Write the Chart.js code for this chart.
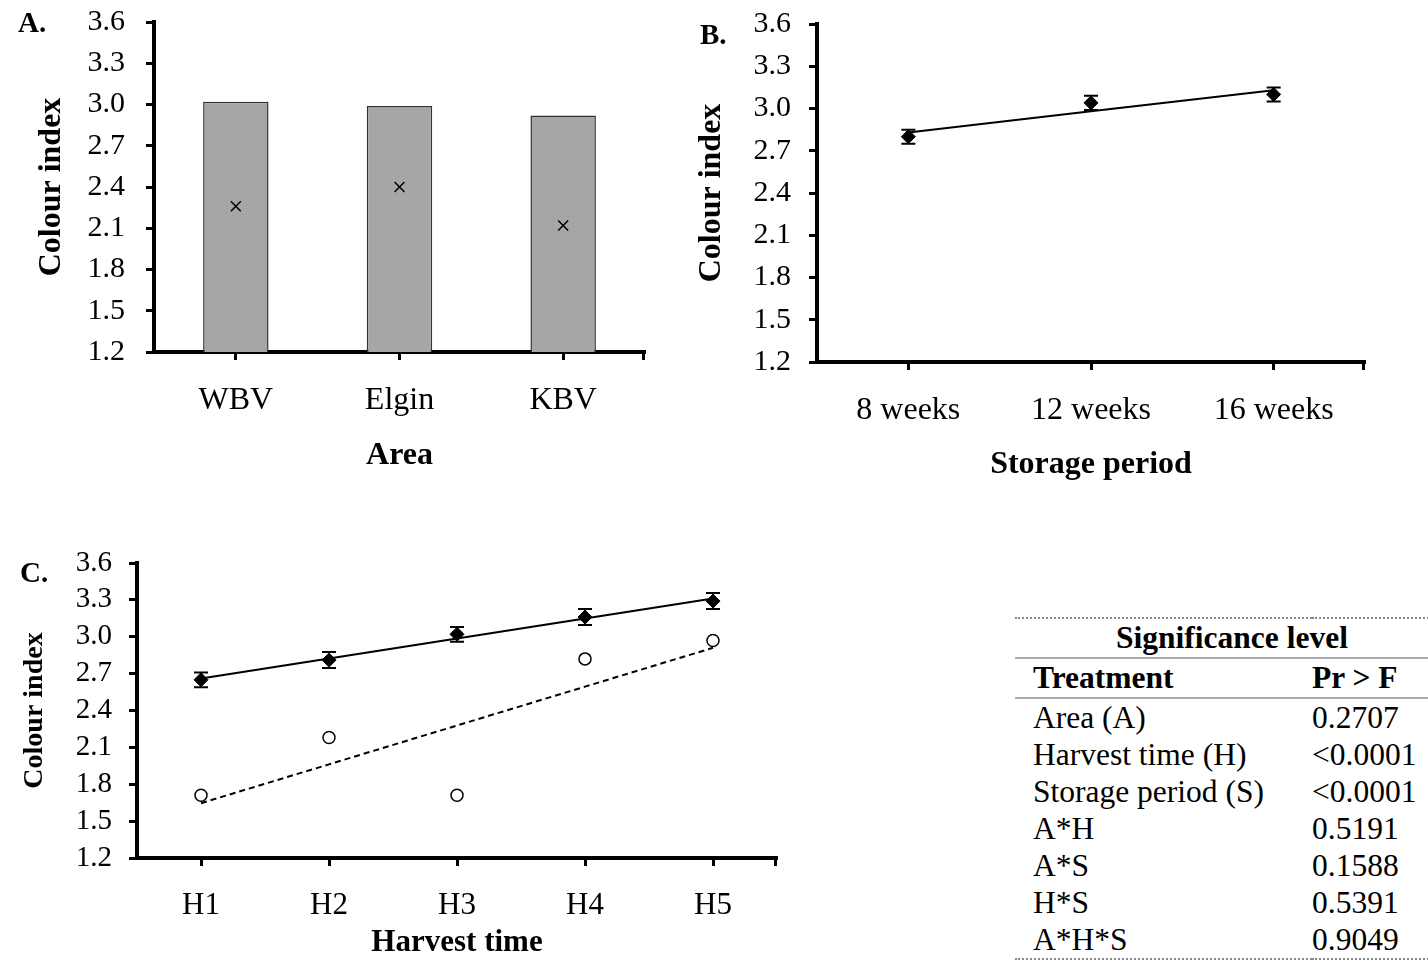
<!DOCTYPE html>
<html>
<head>
<meta charset="utf-8">
<title>Colour index</title>
<script src="https://cdn.jsdelivr.net/npm/chart.js@4.4.1/dist/chart.umd.min.js"></script>
<style>
  body { margin: 0; background: #fff; width: 1428px; height: 962px; position: relative; overflow: hidden;
         font-family: "Liberation Serif", "Times New Roman", serif; color: #000; }
  .panel { position: absolute; }
  .letter { position: absolute; font-weight: bold; font-size: 29px; line-height: 1; }
  #sig { position: absolute; left: 1015px; top: 617px; width: 434px; border-collapse: collapse; font-size: 31.5px; }
  #sig td, #sig th { padding: 0; height: 37px; line-height: 1; text-align: left; vertical-align: middle; }
  #sig tr.top th { height: 38px; text-align: center; border-top: 2px dotted #888; border-bottom: 2px solid #aaa; }
  #sig tr.head th { height: 38px; border-bottom: 2px solid #aaa; }
  #sig tr:last-child td { border-bottom: 2px dotted #888; }
  #sig .c1 { padding-left: 18px; width: 279px; }
</style>
</head>
<body>
<div class="panel" style="left:0;top:0;width:660px;height:480px"><canvas id="area"></canvas></div>
<div class="panel" style="left:690px;top:0;width:738px;height:490px"><canvas id="storage"></canvas></div>
<div class="panel" style="left:0;top:540px;width:800px;height:422px"><canvas id="harvest"></canvas></div>
<div class="letter" style="left:18px;top:8px">A.</div>
<div class="letter" style="left:700px;top:20px">B.</div>
<div class="letter" style="left:20px;top:558px">C.</div>
<table id="sig">
  <tr class="top"><th colspan="2">Significance level</th></tr>
  <tr class="head"><th class="c1">Treatment</th><th>Pr &gt; F</th></tr>
</table>
<script>
const yTicks = [1.2, 1.5, 1.8, 2.1, 2.4, 2.7, 3.0, 3.3, 3.6];

// A. Area
const areas = ['WBV', 'Elgin', 'KBV'];
const areaBars = [3.02, 2.99, 2.92];
const areaMarks = [2.26, 2.40, 2.12];

// B. Storage period
const weeks = ['8 weeks', '12 weeks', '16 weeks'];
const storageMeans = [2.80, 3.04, 3.10];
const storageErr = [0.05, 0.05, 0.05];

// C. Harvest time
const harvests = ['H1', 'H2', 'H3', 'H4', 'H5'];
const harvestMeans = [2.65, 2.81, 3.02, 3.16, 3.29];
const harvestErr = [0.06, 0.065, 0.06, 0.065, 0.065];
const harvestOpen = [1.71, 2.18, 1.71, 2.82, 2.97];

// significance table
const treatments = ['Area (A)', 'Harvest time (H)', 'Storage period (S)', 'A*H', 'A*S', 'H*S', 'A*H*S'];
const pValues = ['0.2707', '<0.0001', '<0.0001', '0.5191', '0.1588', '0.5391', '0.9049'];

const table = document.getElementById('sig');
treatments.forEach((t, i) => {
  const tr = table.insertRow();
  const a = tr.insertCell(); a.className = 'c1'; a.textContent = t;
  const b = tr.insertCell(); b.textContent = pValues[i];
});

Chart.defaults.font.family = '"Liberation Serif", "Times New Roman", serif';
Chart.defaults.color = '#000';
Chart.defaults.animation = false;
Chart.defaults.plugins.legend.display = false;
Chart.defaults.plugins.tooltip.enabled = false;

// least squares line over equally spaced categories
function trend(values) {
  const n = values.length;
  const mx = (n - 1) / 2;
  const my = values.reduce((s, v) => s + v, 0) / n;
  let sxy = 0, sxx = 0;
  values.forEach((v, i) => { sxy += (i - mx) * (v - my); sxx += (i - mx) * (i - mx); });
  const b = sxy / sxx;
  return values.map((v, i) => my + b * (i - mx));
}

function yAxis(o) {
  return {
    min: 1.2, max: 3.6,
    afterBuildTicks: s => { s.ticks = yTicks.map(v => ({ value: v })); },
    // fixed width, and no extra room above/below for the end labels
    afterFit: s => { s.width = o.width; s.paddingTop = 0; s.paddingBottom = 0; },
    ticks: { padding: o.pad, font: { size: o.size }, autoSkip: false, callback: v => v.toFixed(1) },
    grid: { drawOnChartArea: false, tickLength: 8, tickWidth: 3, tickColor: '#000' },
    border: { color: '#000', width: 4 },
    title: { display: true, text: 'Colour index', font: { size: o.titleSize, weight: 'bold' },
             padding: { top: o.titlePad, bottom: 0 } },
  };
}

function xAxis(o) {
  return {
    offset: true,
    afterFit: s => { s.height = o.height; },
    ticks: { padding: o.pad, font: { size: o.size }, maxRotation: 0, autoSkip: false },
    grid: { offset: false, drawOnChartArea: false, tickLength: 8, tickWidth: 3, tickColor: '#000' },
    border: { color: '#000', width: 4 },
    title: { display: true, text: o.title, font: { size: o.size, weight: 'bold' },
             padding: { top: 0, bottom: o.titlePad } },
  };
}

// closing tick at the right end of the category axis
const endTick = {
  id: 'endTick',
  afterDraw(chart) {
    const { ctx, chartArea: a } = chart;
    ctx.save();
    ctx.strokeStyle = '#000';
    ctx.lineWidth = 3;
    ctx.beginPath();
    ctx.moveTo(a.right - 1.5, a.bottom);
    ctx.lineTo(a.right - 1.5, a.bottom + 8);
    ctx.stroke();
    ctx.restore();
  },
};

// vertical error bars with caps for datasets carrying an errors array
const errorBars = {
  id: 'errorBars',
  beforeDatasetsDraw(chart) {
    const { ctx } = chart;
    const y = chart.scales.y;
    chart.data.datasets.forEach((ds, i) => {
      if (!ds.errors) return;
      chart.getDatasetMeta(i).data.forEach((pt, j) => {
        const hi = y.getPixelForValue(ds.data[j] + ds.errors[j]);
        const lo = y.getPixelForValue(ds.data[j] - ds.errors[j]);
        ctx.save();
        ctx.strokeStyle = '#000';
        ctx.lineWidth = 2;
        ctx.beginPath();
        ctx.moveTo(pt.x, hi); ctx.lineTo(pt.x, lo);
        ctx.moveTo(pt.x - 7, hi); ctx.lineTo(pt.x + 7, hi);
        ctx.moveTo(pt.x - 7, lo); ctx.lineTo(pt.x + 7, lo);
        ctx.stroke();
        ctx.restore();
      });
    });
  },
};

const common = { responsive: true, maintainAspectRatio: false };

new Chart(document.getElementById('area'), {
  type: 'bar',
  data: {
    labels: areas,
    datasets: [
      {
        type: 'line',
        data: areaMarks,
        showLine: false,
        pointStyle: 'crossRot',
        pointRadius: 7,
        borderColor: '#000',
        borderWidth: 1.5,
        order: 1,
      },
      {
        data: areaBars,
        backgroundColor: '#a6a6a6',
        borderColor: '#333',
        borderWidth: 1.5,
        categoryPercentage: 1,
        barPercentage: 0.4,
        order: 2,
      },
    ],
  },
  options: {
    ...common,
    layout: { padding: { left: 0, top: 22, right: 15, bottom: 0 } },
    scales: {
      x: xAxis({ height: 128, pad: 21, size: 32, title: 'Area', titlePad: 5 }),
      y: yAxis({ width: 154, pad: 21, size: 30, titleSize: 32, titlePad: 33 }),
    },
  },
  plugins: [endTick],
});

new Chart(document.getElementById('storage'), {
  type: 'line',
  data: {
    labels: weeks,
    datasets: [
      {
        data: storageMeans,
        errors: storageErr,
        showLine: false,
        pointStyle: 'rectRot',
        pointRadius: 7,
        backgroundColor: '#000',
        borderColor: '#000',
        borderWidth: 1,
      },
      {
        data: trend(storageMeans),
        pointRadius: 0,
        borderColor: '#000',
        borderWidth: 2,
      },
    ],
  },
  options: {
    ...common,
    layout: { padding: { left: 0, top: 24, right: 63, bottom: 0 } },
    scales: {
      x: xAxis({ height: 128, pad: 21, size: 32, title: 'Storage period', titlePad: 6 }),
      y: yAxis({ width: 127, pad: 18, size: 30, titleSize: 32, titlePad: 3 }),
    },
  },
  plugins: [endTick, errorBars],
});

new Chart(document.getElementById('harvest'), {
  type: 'line',
  data: {
    labels: harvests,
    datasets: [
      {
        data: harvestMeans,
        errors: harvestErr,
        showLine: false,
        pointStyle: 'rectRot',
        pointRadius: 7,
        backgroundColor: '#000',
        borderColor: '#000',
        borderWidth: 1,
      },
      {
        data: trend(harvestMeans),
        pointRadius: 0,
        borderColor: '#000',
        borderWidth: 2,
      },
      {
        data: harvestOpen,
        showLine: false,
        pointStyle: 'circle',
        pointRadius: 6,
        backgroundColor: '#fff',
        borderColor: '#000',
        borderWidth: 1.5,
      },
      {
        data: trend(harvestOpen),
        pointRadius: 0,
        borderColor: '#000',
        borderWidth: 2,
        borderDash: [6, 4],
      },
    ],
  },
  options: {
    ...common,
    layout: { padding: { left: 0, top: 23, right: 23, bottom: 0 } },
    scales: {
      x: xAxis({ height: 104, pad: 21, size: 31, title: 'Harvest time', titlePad: 0 }),
      y: yAxis({ width: 137, pad: 17, size: 29, titleSize: 28, titlePad: 18 }),
    },
  },
  plugins: [endTick, errorBars],
});
</script>
</body>
</html>
